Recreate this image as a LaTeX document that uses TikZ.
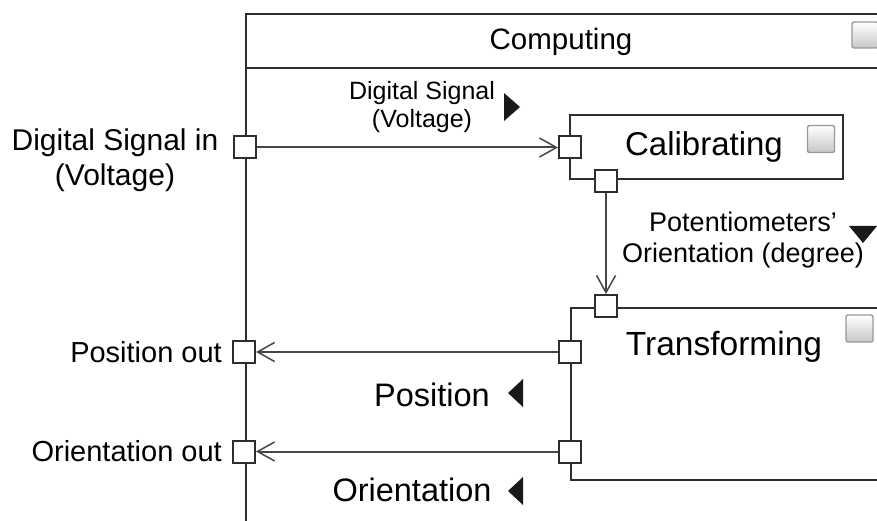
\documentclass[tikz,border=0pt]{standalone}
\usepackage{fontspec}
\setmainfont{Liberation Sans}
\usetikzlibrary{arrows.meta}
\begin{document}
\begin{tikzpicture}[x=1pt,y=-1pt,
  frame/.style={draw=black!82, line width=2.2pt},
  blockbox/.style={draw=black!82, line width=2.2pt, fill=white, inner sep=0pt},
  port/.style={draw=black!82, line width=2pt, fill=white, minimum size=22pt, inner sep=0pt},
  icon/.style={draw=black!40, line width=1.4pt, rounded corners=2pt, top color=white,
    bottom color=black!22, minimum size=26pt, inner sep=0pt},
  flow/.style={draw=black!72, line width=2pt,
    -{Straight Barb[length=17pt,width=19pt,line width=1.5pt]}},
  lbl/.style={text=black, inner sep=0pt, align=center},
  pin/.style={fill=black!90},
]
% canvas
\clip (0,0) rectangle (877,521);
\fill[white] (0,0) rectangle (877,521);

% enclosing block with its header compartment
\node[blockbox, minimum width=700pt, minimum height=560pt, anchor=north west] (comp) at (245,13) {};
\draw[frame] (comp.west |- 0,68) -- (comp.east |- 0,68);
\node[lbl, font=\fontsize{29.5}{35}\selectfont] (comptitle) at (561,42) {Computing};
\node[icon] (compicon) at (865,35) {};

% inner blocks
\node[blockbox, minimum width=273pt, minimum height=64pt] (cal) at (706.5,147) {};
\node[lbl, font=\fontsize{33}{39}\selectfont] (caltitle) at (704,147) {Calibrating};
\node[icon, minimum size=27pt] (calicon) at (821,139) {};

\node[blockbox, minimum width=400pt, minimum height=172pt, anchor=north west] (tr) at (570,307) {};
\node[lbl, font=\fontsize{33.5}{39}\selectfont] (trtitle) at (724,347) {Transforming};
\node[icon, minimum size=27pt] (tricon) at (859.5,328.5) {};

% ports
\node[port] (pin)  at (244.5,147.5) {};
\node[port] (ppos) at (244,352) {};
\node[port] (pori) at (244,451.5) {};
\node[port] (cin)  at (570,147.5) {};
\node[port] (cout) at (606,181.5) {};
\node[port] (tin)  at (606,306) {};
\node[port] (tpos) at (570,352) {};
\node[port] (tori) at (570,451.5) {};

% item flows
\draw[flow] (pin.east) -- (cin.west);
\draw[flow] (cout.south) -- (tin.north);
\draw[flow] (tpos.west) -- (ppos.east);
\draw[flow] (tori.west) -- (pori.east);

% port names
\node[lbl, font=\fontsize{30}{35}\selectfont] (pinname) at (115,160) {Digital Signal in\\(Voltage)};
\node[lbl, anchor=east, font=\fontsize{29}{34}\selectfont] (pposname) at (222,352) {Position out};
\node[lbl, anchor=east, font=\fontsize{29}{34}\selectfont] (poriname) at (222,451) {Orientation out};

% flow item labels with direction markers
\node[lbl, font=\fontsize{25}{28}\selectfont] (dsig) at (422,107) {Digital Signal\\(Voltage)};
\fill[pin] (504,93) -- (520,107) -- (504,121) -- cycle;

\node[lbl, font=\fontsize{27}{31}\selectfont] (pot) at (743,240) {Potentiometers’\\Orientation (degree)};
\fill[pin] (849,226) -- (877,226) -- (863,243) -- cycle;

\node[lbl, font=\fontsize{32.5}{38}\selectfont] (posl) at (432,395) {Position};
\fill[pin] (508,393) -- (523,379) -- (523,407) -- cycle;

\node[lbl, font=\fontsize{32.5}{38}\selectfont] (oril) at (412,490) {Orientation};
\fill[pin] (508,491) -- (523,477) -- (523,505) -- cycle;
\end{tikzpicture}
\end{document}
